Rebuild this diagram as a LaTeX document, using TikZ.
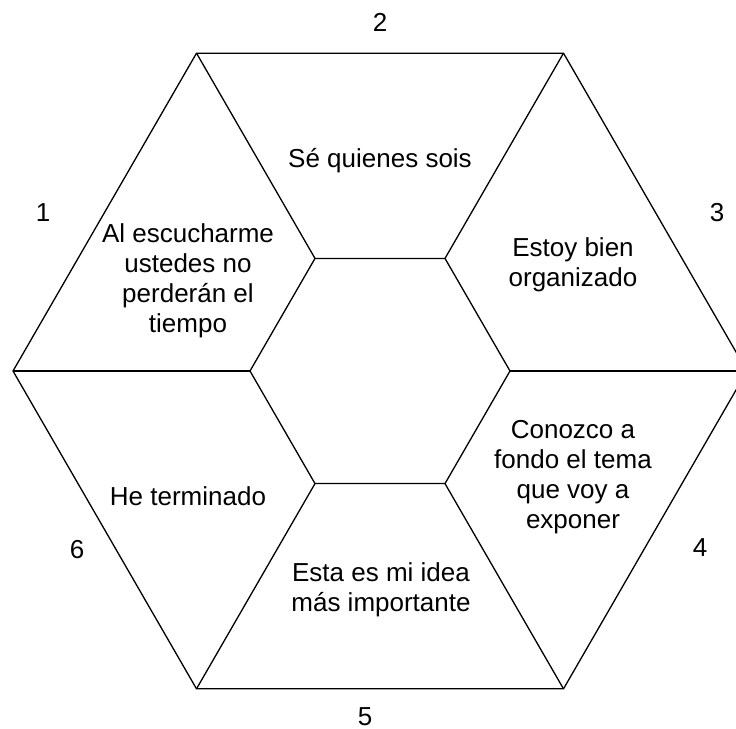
\documentclass[tikz,border=0pt]{standalone}
\usepackage{fontspec}
\setmainfont{Liberation Sans}
\begin{document}
\begin{tikzpicture}[x=1pt,y=-1pt,line width=1.3pt,
    lbl/.style={align=center,font=\fontsize{26}{30}\selectfont,inner sep=0pt},
    num/.style={font=\fontsize{26}{30}\selectfont,inner sep=0pt}]
  \useasboundingbox (0,0) rectangle (736,728);
  \coordinate (c) at (380,371);
  % corners of the outer and the inner hexagon, every 60 degrees
  \foreach \i in {0,...,5}{
    \coordinate (o\i) at ([shift={(\i*60:367)}]c);
    \coordinate (i\i) at ([shift={(\i*60:130)}]c);
  }
  \draw (o0)--(o1)--(o2)--(o3)--(o4)--(o5)--cycle;
  \draw (i0)--(i1)--(i2)--(i3)--(i4)--(i5)--cycle;
  \foreach \i in {0,...,5}{\draw (o\i)--(i\i);}
  % texts in the six fields
  \node[lbl] (t1) at (188,281) {Al escucharme\\ustedes no\\perderán el\\tiempo};
  \node[lbl] (t2) at (380,161) {Sé quienes sois};
  \node[lbl] (t3) at (573,265) {Estoy bien\\organizado};
  \node[lbl] (t4) at (573,477) {Conozco a\\fondo el tema\\que voy a\\exponer};
  \node[lbl] (t5) at (381,590) {Esta es mi idea\\más importante};
  \node[lbl] (t6) at (188,496) {He terminado};
  % numbers round the outside
  \node[num] (n1) at (43,213) {1};
  \node[num] (n2) at (380,22) {2};
  \node[num] (n3) at (717,213) {3};
  \node[num] (n4) at (700,548) {4};
  \node[num] (n5) at (365,717) {5};
  \node[num] (n6) at (77,550) {6};
\end{tikzpicture}
\end{document}
